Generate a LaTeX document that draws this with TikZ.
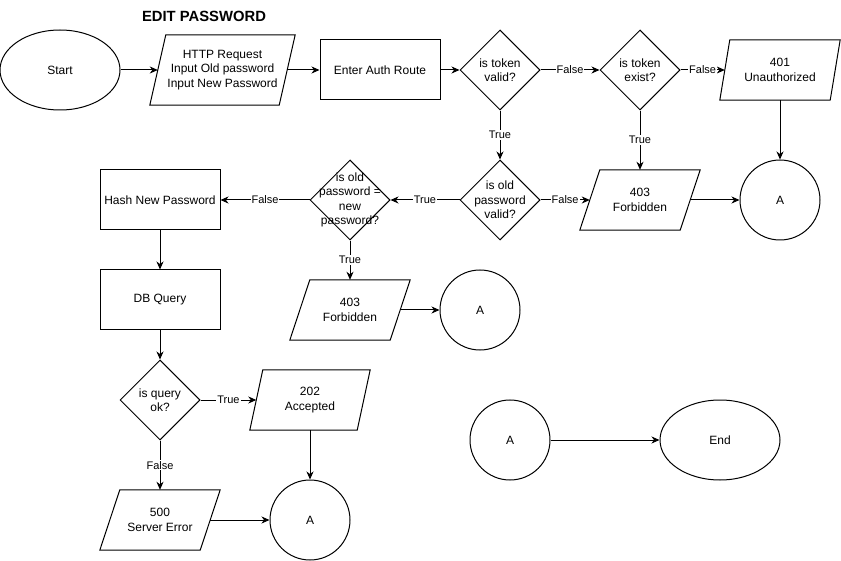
\documentclass[tikz,border=0pt]{standalone}
\usepackage{fontspec}
\setmainfont{Liberation Sans}
\usetikzlibrary{shapes.geometric,arrows.meta}
\tikzset{
  fnt/.style={font=\fontsize{12}{14.4}\selectfont},
  base/.style={draw, line width=1pt, fnt, align=center, inner sep=0pt},
  proc/.style={base, rectangle, minimum width=120pt, minimum height=60pt},
  dia/.style={base, diamond, minimum width=80pt, minimum height=80pt},
  term/.style={base, ellipse, minimum width=120pt, minimum height=80pt},
  conn/.style={base, circle, minimum size=80pt},
  io/.style={rectangle, fnt, align=center, inner sep=0pt, minimum height=60pt, minimum width=#1},
  txt/.style={fnt, align=center, inner sep=0pt},
  arr/.style={line width=1pt, -{Stealth[length=8pt,width=7pt,inset=2.5pt]}},
  lbl/.style={fill=white, font=\fontsize{11}{13}\selectfont, inner sep=1pt},
  pline/.style={line width=1pt, line join=miter},
}
\begin{document}
\begin{tikzpicture}[x=1pt,y=-1pt]
\useasboundingbox (0,0) rectangle (841,561);
\node[font=\fontsize{14.8}{17}\selectfont\bfseries, inner sep=0pt] (title) at (204,16) {EDIT PASSWORD};

\node[term] (start) at (60,70) {Start};
\node[io=129pt, minimum height=70pt] (http) at (222.5,70) {HTTP Request\\Input Old password\\Input New Password};
\node[proc] (auth) at (380,70) {Enter Auth Route};
\node[dia, label={[txt]center:is token\\valid?}] (tv) at (500,70) {};
\node[dia, label={[txt]center:is token\\exist?}] (te) at (640,70) {};
\node[io=110pt] (u401) at (780,70) {401\\Unauthorized};
\node[conn] (a1) at (780,200) {A};
\node[io=100pt] (f403a) at (640,200) {403\\Forbidden};
\node[dia, label={[txt]center:is old\\password\\valid?}] (opv) at (500,200) {};
\node[dia, label={[txt]center:is old\\password =\\new\\password?}] (eq) at (350,200) {};
\node[proc] (hash) at (160,200) {Hash New Password};
\node[proc] (db) at (160,300) {DB Query};
\node[io=100pt] (f403b) at (350,310) {403\\Forbidden};
\node[conn] (a2) at (480,310) {A};
\node[dia, label={[txt]center:is query\\ok?}] (qok) at (160,400) {};
\node[io=107pt] (acc) at (310,400) {202\\Accepted};
\node[io=100pt] (err) at (160,520) {500\\Server Error};
\node[conn] (a3) at (310,520) {A};
\node[conn] (a4) at (510,440) {A};
\node[term] (end) at (720,440) {End};

\foreach \n/\s in {http/8, u401/5, f403a/10, f403b/10, acc/6.5, err/10}{
  \draw[pline] ([xshift=-\s pt]\n.south west) -- ([xshift=\s pt]\n.north west)
    -- ([xshift=\s pt]\n.north east) -- ([xshift=-\s pt]\n.south east) -- cycle;
}

\draw[arr] (start) -- (http);
\draw[arr] (http) -- (auth);
\draw[arr] (auth) -- (tv);
\draw[arr] (tv) -- node[lbl]{False} (te);
\draw[arr] (te) -- node[lbl]{False} (u401);
\draw[arr] (tv) -- node[lbl]{True} (opv);
\draw[arr] (te) -- node[lbl]{True} (f403a);
\draw[arr] (u401) -- (a1);
\draw[arr] (f403a) -- (a1);
\draw[arr] (opv) -- node[lbl]{False} (f403a);
\draw[arr] (opv) -- node[lbl]{True} (eq);
\draw[arr] (eq) -- node[lbl]{False} (hash);
\draw[arr] (eq) -- node[lbl]{True} (f403b);
\draw[arr] (f403b) -- (a2);
\draw[arr] (hash) -- (db);
\draw[arr] (db) -- (qok);
\draw[arr] (qok) -- node[lbl]{True} (acc);
\draw[arr] (qok) -- node[lbl]{False} (err);
\draw[arr] (acc) -- (a3);
\draw[arr] (err) -- (a3);
\draw[arr] (a4) -- (end);
\end{tikzpicture}
\end{document}
